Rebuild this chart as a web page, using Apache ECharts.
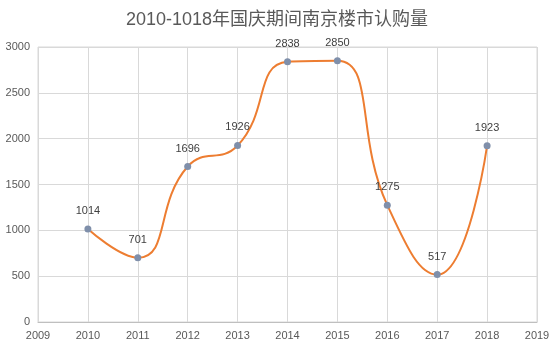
<!DOCTYPE html>
<html>
<head>
<meta charset="utf-8">
<script src="https://cdn.jsdelivr.net/npm/echarts@6/dist/echarts.min.js"></script>
<style>
    html, body { margin: 0; padding: 0; background: #fff; }
    #chart { width: 554px; height: 354px; }
</style>
</head>
<body>
<div id="chart"></div>
<script>
// 年份与认购量
var years = [2010, 2011, 2012, 2013, 2014, 2015, 2016, 2017, 2018];
var sales = [1014, 701, 1696, 1926, 2838, 2850, 1275, 517, 1923];

var chart = echarts.init(document.getElementById("chart"));
var font = "'Liberation Sans', 'Noto Sans CJK SC', sans-serif";

var option = {
    animation: false,
    title: {
        text: "2010-1018年国庆期间南京楼市认购量",
        left: "center",
        top: 6,
        textStyle: {
            fontFamily: font,
            fontSize: 18,
            fontWeight: "normal",
            color: "#595959"
        }
    },
    grid: {
        left: 38,
        right: 17,
        top: 47,
        bottom: 32,
        show: true,
        borderColor: "#d9d9d9",
        borderWidth: 1
    },
    xAxis: {
        type: "value",
        min: 2009,
        max: 2019,
        interval: 1,
        axisLine: { show: true, lineStyle: { color: "#bfbfbf" } },
        axisTick: { show: false },
        splitLine: { show: true, lineStyle: { color: "#d9d9d9" } },
        axisLabel: {
            color: "#595959", fontSize: 11, fontFamily: font, margin: 8,
            formatter: function (v) { return String(v); }
        }
    },
    yAxis: {
        type: "value",
        min: 0,
        max: 3000,
        interval: 500,
        axisLine: { show: false },
        axisTick: { show: false },
        splitLine: { show: true, lineStyle: { color: "#d9d9d9" } },
        axisLabel: {
            color: "#595959", fontSize: 11, fontFamily: font, margin: 8,
            formatter: function (v) { return String(v); }
        }
    },
    series: [
        {
            type: "line",
            data: years.map(function (y, i) { return [y, sales[i]]; }),
            smooth: 0.5,
            symbol: "circle",
            symbolSize: 7,
            lineStyle: { color: "#ED7D31", width: 2 },
            itemStyle: { color: "#7f8faa" },
            label: {
                show: true,
                position: "top",
                distance: 9,
                color: "#404040",
                fontSize: 11,
                fontFamily: font,
                formatter: function (p) { return p.value[1]; }
            }
        }
    ]
};
chart.setOption(option);
</script>
</body>
</html>
